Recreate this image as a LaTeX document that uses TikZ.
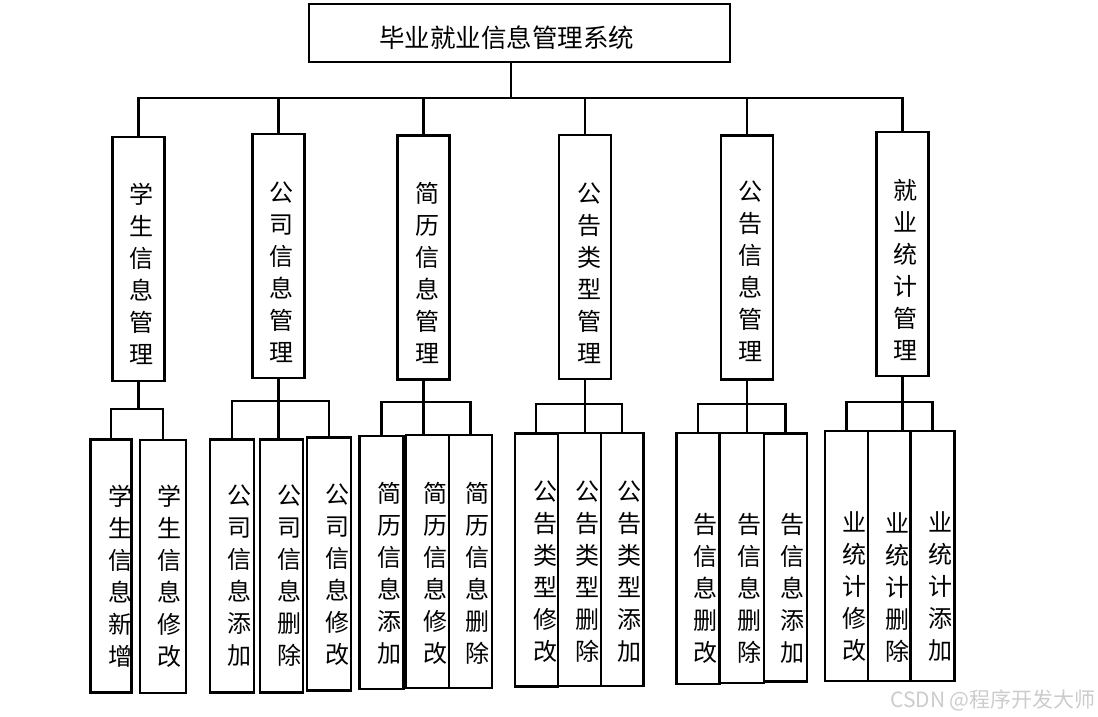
\documentclass[tikz,border=0pt]{standalone}
\usepackage{fontspec}
\setmainfont{Noto Sans CJK SC}
\usepackage{tikz}
\usetikzlibrary{positioning}

\begin{document}
\begin{tikzpicture}[x=1pt, y=-1pt, line width=2.4pt,
    sysbox/.style={draw, minimum width=421, minimum height=58, inner sep=0pt},
    modbox/.style={draw, minimum width=52, minimum height=244, inner sep=0pt},
    funcbox/.style={draw, minimum width=43, minimum height=253, inner sep=0pt},
    vtext/.style={align=center, inner sep=0pt, font=\fontsize{24}{32}\selectfont}]
        \useasboundingbox (0,0) rectangle (1098,716);

        % top
        \node[sysbox] (sys) at (519.5,33) {};
        \node[inner sep=0pt, font=\fontsize{25.5}{30}\selectfont] (systext) at (506.5,38) {毕业就业信息管理系统};

        % modules
        \node[modbox] (m1) at (138.3,258.7) {};
        \node[modbox] (m2) at (278.5,256) {};
        \node[modbox] (m3) at (423.5,257.3) {};
        \node[modbox] (m4) at (584.7,257) {};
        \node[modbox] (m5) at (746.9,257.3) {};
        \node[modbox] (m6) at (902.5,254) {};
        \node[vtext] (t1) at (141.2,273.5) {学\\生\\信\\息\\管\\理};
        \node[vtext] (t2) at (281.6,272.5) {公\\司\\信\\息\\管\\理};
        \node[vtext] (t3) at (427,273) {简\\历\\信\\息\\管\\理};
        \node[vtext] (t4) at (589.5,273) {公\\告\\类\\型\\管\\理};
        \node[vtext] (t5) at (750,271.7) {公\\告\\信\\息\\管\\理};
        \node[vtext] (t6) at (905.3,270) {就\\业\\统\\计\\管\\理};

        % functions
        \node[funcbox, minimum width=41] (f11) at (110.8,565.8) {};
        \node[funcbox, minimum width=46] (f12) at (162.8,566.2) {};
        \node[funcbox, minimum width=44] (f21) at (232,565.8) {};
        \node[funcbox] (f22) at (281.5,565.8) {};
        \node[funcbox, minimum width=44] (f23) at (329,563.8) {};
        \node[funcbox, minimum width=44] (f31) at (381.5,562.3) {};
        \node[funcbox] (f32) at (427.5,561.2) {};
        \node[funcbox] (f33) at (470.5,561.2) {};
        \node[funcbox] (f41) at (536.2,560) {};
        \node[funcbox] (f42) at (579.3,559.2) {};
        \node[funcbox, minimum width=42.3] (f43) at (622.2,559.2) {};
        \node[funcbox, minimum height=251] (f51) at (698,558.7) {};
        \node[funcbox, minimum width=44.2, minimum height=250] (f52) at (741.9,558) {};
        \node[funcbox, minimum height=248] (f53) at (785.6,557.5) {};
        \node[funcbox, minimum height=250] (f61) at (846.6,555.7) {};
        \node[funcbox, minimum width=42.2, minimum height=250] (f62) at (889.3,555.7) {};
        \node[funcbox, minimum width=44.2, minimum height=250] (f63) at (932.5,555.7) {};

        \node[vtext] (g11) at (120,576.5) {学\\生\\信\\息\\新\\增};
        \node[vtext] (g12) at (169,576.5) {学\\生\\信\\息\\修\\改};
        \node[vtext] (g21) at (239.5,576) {公\\司\\信\\息\\添\\加};
        \node[vtext] (g22) at (289.6,576) {公\\司\\信\\息\\删\\除};
        \node[vtext] (g23) at (337.7,574.5) {公\\司\\信\\息\\修\\改};
        \node[vtext] (g31) at (389,573.4) {简\\历\\信\\息\\添\\加};
        \node[vtext] (g32) at (435,573.4) {简\\历\\信\\息\\修\\改};
        \node[vtext] (g33) at (477.7,573.4) {简\\历\\信\\息\\删\\除};
        \node[vtext] (g41) at (545,572) {公\\告\\类\\型\\修\\改};
        \node[vtext] (g42) at (587,572) {公\\告\\类\\型\\删\\除};
        \node[vtext] (g43) at (629.5,572) {公\\告\\类\\型\\添\\加};
        \node[vtext] (g51) at (705,588.7) {告\\信\\息\\删\\改};
        \node[vtext] (g52) at (749.5,588.7) {告\\信\\息\\删\\除};
        \node[vtext] (g53) at (792.7,588.7) {告\\信\\息\\添\\加};
        \node[vtext] (g61) at (854.4,587) {业\\统\\计\\修\\改};
        \node[vtext] (g62) at (897.2,587) {业\\统\\计\\删\\除};
        \node[vtext] (g63) at (940.4,587) {业\\统\\计\\添\\加};

        % connectors
        \coordinate (bus) at (511,98);
        \draw (sys.south -| bus) -- (bus);
        \draw (m1.north) |- (bus) -| (m6.north);
        \draw (m2.north) -- (m2.north |- bus);
        \draw (m3.north) -- (m3.north |- bus);
        \draw (m4.north) -- (m4.north |- bus);
        \draw (m5.north) -- (m5.north |- bus);

        \coordinate (h1) at (138.3,409);
        \coordinate (h2) at (278.5,401);
        \coordinate (h3) at (423.5,402);
        \coordinate (h4) at (584.7,404);
        \coordinate (h5) at (746.9,404);
        \coordinate (h6) at (902.5,402);
        \draw (m1.south) -- (h1);
        \draw (f11.north) |- (h1) -| (f12.north);
        \draw (m2.south) -- (m2.south |- f22.north);
        \draw (f21.north) |- (h2) -| (f23.north);
        \draw (m3.south) -- (m3.south |- f32.north);
        \draw (f31.north) |- (h3) -| (f33.north);
        \draw (m4.south) -- (m4.south |- f42.north);
        \draw (f41.north) |- (h4) -| (f43.north);
        \draw (m5.south) -- (m5.south |- f52.north);
        \draw (f51.north) |- (h5) -| (f53.north);
        \draw (m6.south) -- (m6.south |- f62.north);
        \draw (f61.north) |- (h6) -| (f63.north);

        \node[anchor=east, inner sep=0pt, text=gray!40, font=\fontsize{21}{24}\selectfont] (mark) at (1097,700) {CSDN @程序开发大师};
    \end{tikzpicture}
\end{document}
